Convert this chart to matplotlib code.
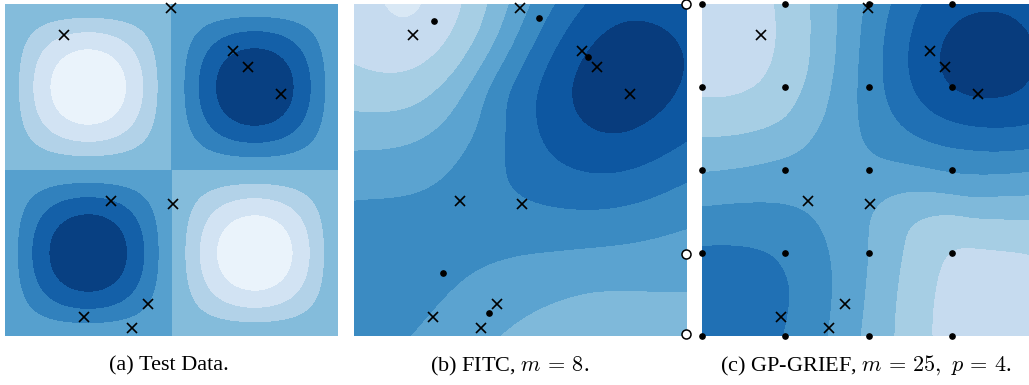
import numpy as np
import matplotlib
matplotlib.use('Agg')
import matplotlib.pyplot as plt

plt.rcParams['font.family'] = ['Liberation Serif', 'DejaVu Serif']
plt.rcParams['mathtext.fontset'] = 'cm'

# training points (x markers), same in all three panels, unit square coords
train_u = [0.498, 0.177, 0.686, 0.729, 0.829, 0.317, 0.504, 0.429, 0.238, 0.380]
train_v = [0.987, 0.907, 0.858, 0.811, 0.729, 0.408, 0.397, 0.095, 0.058, 0.023]

# FITC inducing points (panel b), 5 inside + 3 on the right edge
fitc_u = [0.240, 0.556, 0.702, 0.268, 0.405]
fitc_v = [0.950, 0.959, 0.840, 0.189, 0.070]
fitc_edge_u = [0.996, 0.996, 0.996]
fitc_edge_v = [1.0, 0.246, 0.005]

# GP-GRIEF inducing grid (5 x 5)
grid_pos = [0.0, 0.25, 0.5, 0.75, 1.0]

# predicted surfaces as (u, v, value) with value in band units 0-10
fitc_cu = [0.0, 0.09, 0.15, 0.22, 0.32, 0.41, 0.46, 0.53, 0.61, 0.69, 0.85, 1.0,
           0.15, 0.0, 0.0, 0.0, 0.0, 0.0, 0.0,
           0.19, 0.27, 0.19, 0.32, 0.39, 0.32, 0.41, 0.30, 0.40,
           0.46, 0.44, 0.45, 0.62, 1.0,
           0.56, 0.55, 0.77, 1.0,
           0.645, 0.97, 0.80, 0.80, 0.80,
           0.18, 0.50, 1.0, 0.42, 0.72, 1.0, 0.70, 1.0, 0.15]
fitc_cv = [1.0, 1.0, 1.0, 1.0, 1.0, 1.0, 1.0, 1.0, 1.0, 1.0, 1.0, 1.0,
           0.95, 0.81, 0.675, 0.56, 0.43, 0.2, 0.0,
           0.80, 0.87, 0.69, 0.78, 0.91, 0.75, 0.75, 0.51, 0.63,
           0.75, 0.71, 0.45, 0.39, 0.48,
           0.75, 0.67, 0.49, 0.59,
           0.75, 0.75, 0.957, 0.60, 0.78,
           0.0, 0.25, 0.335, 0.0, 0.145, 0.12, 0.0, 0.0, 0.22]
fitc_val = [2.7, 2.0, 1.6, 2.0, 3.0, 4.0, 5.0, 6.0, 7.0, 8.0, 8.6, 8.4,
            2.0, 3.0, 4.0, 5.0, 6.0, 6.4, 6.3,
            3.0, 3.0, 4.0, 4.0, 4.0, 5.0, 6.0, 6.0, 6.0,
            7.0, 7.0, 7.0, 7.0, 7.0,
            8.0, 8.0, 8.0, 8.0,
            9.0, 9.0, 9.0, 9.0, 9.9,
            6.0, 6.0, 6.0, 5.0, 5.0, 5.0, 4.3, 4.4, 6.5]

grief_cu = [0.0, 0.22, 0.33, 0.405, 0.49, 0.57, 0.66, 0.85, 1.0,
            0.05, 0.225, 0.05, 0.18, 0.33, 0.0, 0.27, 0.40, 0.0, 0.204, 0.324, 0.385,
            0.0, 0.204, 0.324, 0.385, 0.38, 0.0, 0.27, 0.24, 0.22, 0.08,
            0.985, 0.985, 0.985, 0.985, 0.985, 0.985, 0.985,
            0.71, 0.96, 0.86, 0.86, 0.86, 0.75, 0.95,
            0.62, 0.85, 0.545, 0.80, 0.47, 0.75, 0.52,
            0.47, 0.51, 0.60, 0.80, 0.58, 0.62, 0.75, 0.68, 0.72, 0.85, 0.9, 0.45]
grief_cv = [1.0, 1.0, 1.0, 1.0, 1.0, 1.0, 1.0, 1.0, 1.0,
            0.95, 0.9, 0.71, 0.76, 0.8, 0.60, 0.64, 0.8, 0.49, 0.53, 0.61, 0.76,
            0.385, 0.40, 0.36, 0.23, 0.0, 0.28, 0.15, 0.0, 0.25, 0.1,
            0.63, 0.57, 0.50, 0.42, 0.36, 0.26, 0.1,
            0.83, 0.85, 0.97, 0.72, 0.85, 0.75, 0.74,
            0.8, 0.63, 0.8, 0.57, 0.8, 0.485, 0.53,
            0.0, 0.26, 0.36, 0.40, 0.0, 0.26, 0.33, 0.0, 0.22, 0.26, 0.08, 0.45]
grief_val = [2.3, 3.0, 4.0, 5.0, 6.0, 7.0, 8.0, 8.8, 8.6,
             2.2, 3.0, 3.0, 3.0, 4.0, 4.0, 4.0, 5.0, 5.0, 5.0, 5.0, 5.0,
             6.0, 6.0, 6.0, 6.0, 6.0, 7.0, 7.0, 7.0, 7.0, 7.6,
             8.0, 7.0, 6.0, 5.0, 4.0, 3.0, 2.6,
             9.0, 9.0, 9.0, 9.0, 9.9, 9.1, 9.1,
             8.0, 8.0, 7.0, 7.0, 6.0, 6.0, 6.0,
             5.0, 5.0, 4.0, 5.0, 4.0, 4.0, 3.0, 3.0, 3.0, 3.0, 2.3, 5.5]

captions = ['(a) Test Data.', '(b) FITC, $m\\,=\\,8$.', '(c) GP-GRIEF, $m\\,=\\,25,\\ p\\,=\\,4$.']
caption_x = [169, 510, 866]


def tps_surface(cu, cv, val, uu, vv, lam):
    # smoothing thin plate spline through the read-off values
    pts = np.column_stack([cu, cv])
    y = np.array(val, dtype=float)
    n = len(y)

    def phi(d2):
        with np.errstate(divide='ignore', invalid='ignore'):
            r = np.where(d2 > 0, 0.5 * d2 * np.log(d2), 0.0)
        return r

    d2 = ((pts[:, None, :] - pts[None, :, :]) ** 2).sum(-1)
    P = np.column_stack([np.ones(n), pts])
    A = np.zeros((n + 3, n + 3))
    A[:n, :n] = phi(d2) + lam * np.eye(n)
    A[:n, n:] = P
    A[n:, :n] = P.T
    sol = np.linalg.solve(A, np.concatenate([y, np.zeros(3)]))
    w, a = sol[:n], sol[n:]
    g = np.column_stack([uu.ravel(), vv.ravel()])
    d2g = ((g[:, None, :] - pts[None, :, :]) ** 2).sum(-1)
    z = phi(d2g) @ w + a[0] + a[1] * g[:, 0] + a[2] * g[:, 1]
    return z.reshape(uu.shape)


n = 200
uu, vv = np.meshgrid(np.linspace(0, 1, n), np.linspace(0, 1, n))

fig = plt.figure(figsize=(10.29, 3.85), dpi=100)
W, H = 1029.0, 385.0
lefts = [5, 354, 702]
axes = [fig.add_axes([l / W, 49 / H, 333 / W, 332 / H]) for l in lefts]

# (a) test data
za = np.sin(2 * np.pi * uu) * np.sin(2 * np.pi * vv)
axes[0].contourf(uu, vv, np.clip(za, -0.999, 0.999), levels=np.linspace(-1, 1, 9), cmap='Blues')

# (b) FITC
zb = tps_surface(fitc_cu, fitc_cv, fitc_val, uu, vv, 0.03)
axes[1].contourf(uu, vv, np.clip(zb, 0.01, 9.99), levels=np.arange(11), cmap='Blues')

# (c) GP-GRIEF
zc = tps_surface(grief_cu, grief_cv, grief_val, uu, vv, 0.02)
axes[2].contourf(uu, vv, np.clip(zc, 0.01, 9.99), levels=np.arange(11), cmap='Blues')

for ax in axes:
    ax.plot(train_u, train_v, 'x', color='black', ms=7.5, mew=1.2, clip_on=False)
    ax.set_xlim(0, 1)
    ax.set_ylim(0, 1)
    ax.axis('off')

axes[1].plot(fitc_u, fitc_v, 'o', color='black', ms=3.8, clip_on=False)
axes[1].plot(fitc_edge_u, fitc_edge_v, 'o', mfc='white', mec='black', ms=6.5, mew=1.1, clip_on=False)

gu, gv = np.meshgrid(grid_pos, grid_pos)
axes[2].plot(gu.ravel(), gv.ravel(), 'o', color='black', ms=3.8, clip_on=False)

for txt, x in zip(captions, caption_x):
    fig.text(x / W, (385 - 366) / H, txt, ha='center', va='center', fontsize=16)

plt.savefig('out.png', dpi=100)
